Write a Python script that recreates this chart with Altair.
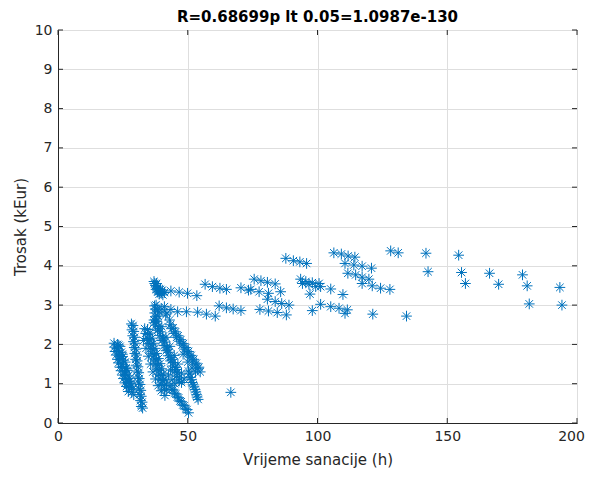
import altair as alt
import pandas as pd

TITLE = "R=0.68699p lt 0.05=1.0987e-130"
X_LABEL = "Vrijeme sanacije (h)"
Y_LABEL = "Trosak (kEur)"
X_TICKS = [0, 50, 100, 150, 200]
Y_TICKS = [0, 1, 2, 3, 4, 5, 6, 7, 8, 9, 10]

# dense cluster, stripe by stripe (x = hours, y = kEur)
stripe_a = [(21.6, 2.03), (22.9, 2.00), (21.8, 1.93), (22.8, 1.90), (23.9, 1.95),
            (22.0, 1.82), (23.3, 1.84), (24.4, 1.80), (22.5, 1.73), (23.7, 1.70),
            (24.8, 1.75), (22.9, 1.62), (24.2, 1.64), (25.3, 1.60), (23.3, 1.53),
            (24.6, 1.50), (25.9, 1.55), (23.9, 1.42), (25.0, 1.44), (26.2, 1.40),
            (24.3, 1.33), (25.6, 1.30), (26.7, 1.34), (24.8, 1.22), (26.0, 1.24),
            (27.1, 1.20), (25.3, 1.13), (26.5, 1.10), (27.6, 1.14), (25.8, 1.02),
            (26.9, 1.04), (28.0, 1.00), (26.4, 0.93), (27.3, 0.90), (28.3, 0.94),
            (27.1, 0.80), (28.4, 0.78), (23.4, 1.98), (24.9, 1.69), (26.4, 1.38),
            (27.6, 1.06), (28.8, 0.86), (29.2, 0.72)]
stripe_b = [(28.3, 2.52), (28.9, 2.48), (28.5, 2.37), (29.2, 2.33), (28.8, 2.22),
            (29.5, 2.18), (29.1, 2.07), (29.7, 2.03), (29.4, 1.92), (30.0, 1.88),
            (29.6, 1.77), (30.3, 1.73), (29.9, 1.62), (30.5, 1.58), (30.2, 1.47),
            (30.8, 1.43), (30.4, 1.32), (31.1, 1.28), (30.7, 1.17), (31.3, 1.13),
            (31.0, 1.02), (31.6, 0.98), (31.2, 0.87), (31.9, 0.83), (31.5, 0.72),
            (32.1, 0.68), (31.8, 0.57), (32.4, 0.53), (32.1, 0.42), (32.6, 0.38)]
stripe_c = [(33.4, 2.40), (34.5, 2.38), (33.8, 2.28), (34.7, 2.25), (35.5, 2.29),
            (34.4, 2.15), (35.3, 2.12), (36.2, 2.16), (35.0, 2.02), (35.9, 1.99),
            (36.8, 2.03), (35.6, 1.89), (36.5, 1.86), (37.4, 1.90), (36.2, 1.76),
            (37.1, 1.73), (38.0, 1.77), (36.9, 1.63), (37.8, 1.60), (38.7, 1.64),
            (37.5, 1.50), (38.4, 1.47), (39.3, 1.51), (38.1, 1.37), (39.0, 1.34),
            (39.9, 1.38), (38.8, 1.24), (39.7, 1.21), (40.6, 1.25), (39.4, 1.11),
            (40.3, 1.08), (41.2, 1.12), (40.0, 0.98), (40.9, 0.95), (41.8, 0.99),
            (41.0, 0.86), (41.9, 0.84), (33.0, 2.10), (33.9, 1.90), (34.8, 1.70),
            (35.7, 1.50), (36.6, 1.30), (37.6, 1.12), (38.6, 0.95), (39.8, 0.82),
            (41.2, 0.70)]
stripe_d = [(37.0, 2.62), (37.9, 2.58), (37.6, 2.49), (38.6, 2.45), (38.4, 2.36),
            (39.4, 2.32), (38.9, 2.40), (39.3, 2.23), (40.3, 2.19), (40.1, 2.10),
            (41.1, 2.06), (40.6, 2.14), (40.9, 1.97), (41.9, 1.93), (41.7, 1.84),
            (42.7, 1.80), (42.2, 1.88), (42.5, 1.71), (43.5, 1.67), (43.4, 1.58),
            (44.4, 1.54), (43.9, 1.62), (44.2, 1.45), (45.2, 1.41), (45.0, 1.32),
            (46.0, 1.28), (45.5, 1.36), (45.8, 1.19), (46.8, 1.15), (46.7, 1.07),
            (47.6, 1.03), (40.0, 2.45), (41.6, 2.18), (43.1, 1.95), (44.8, 1.72),
            (46.2, 1.50), (47.6, 1.27), (48.6, 1.12), (44.0, 1.10), (45.0, 1.00),
            (42.6, 1.22), (43.4, 1.35)]
stripe_e = [(43.3, 2.50), (43.8, 2.40), (44.4, 2.42), (44.7, 2.28), (45.3, 2.32),
            (45.7, 2.18), (46.3, 2.22), (46.8, 2.08), (47.3, 2.12), (47.8, 1.98),
            (48.3, 2.02), (48.8, 1.88), (49.3, 1.92), (49.8, 1.78), (50.3, 1.82),
            (50.8, 1.68), (51.3, 1.72), (51.8, 1.58), (52.3, 1.62), (52.8, 1.48),
            (53.3, 1.52), (53.8, 1.38), (54.3, 1.42), (54.8, 1.30), (48.2, 1.75),
            (50.0, 1.55), (51.6, 1.40), (53.0, 1.30)]
stripe_f = [(43.2, 0.95), (43.9, 0.86), (44.3, 0.84), (44.9, 0.76), (45.4, 0.74),
            (46.0, 0.66), (46.5, 0.64), (47.0, 0.56), (47.5, 0.54), (48.1, 0.46),
            (48.6, 0.44), (49.2, 0.36), (49.7, 0.34), (50.3, 0.26)]
stripe_g = [(50.3, 1.32), (50.8, 1.25), (51.0, 1.16), (51.5, 1.10), (51.7, 1.03),
            (52.1, 0.97), (52.4, 0.92), (52.8, 0.85), (53.1, 0.79), (53.4, 0.72),
            (53.6, 0.66), (54.0, 0.60)]
upper_a = [(37.0, 3.60), (37.3, 3.55), (37.6, 3.50), (37.9, 3.46), (38.3, 3.42),
           (38.7, 3.38), (39.2, 3.34), (39.8, 3.30), (40.4, 3.26), (37.8, 3.40),
           (38.4, 3.33), (39.0, 3.28), (38.0, 3.55), (39.5, 3.40), (41.0, 3.32),
           (40.2, 3.38), (43.5, 3.36), (46.7, 3.33), (49.9, 3.30), (53.5, 3.24)]
upper_b = [(37.2, 2.98), (37.5, 2.90), (37.3, 2.80), (37.6, 2.70), (38.0, 2.62),
           (38.4, 2.88), (39.0, 2.83), (37.0, 2.55), (38.6, 2.72), (37.8, 3.00),
           (41.0, 2.96), (43.5, 2.89), (46.1, 2.83), (49.5, 2.83), (53.8, 2.82),
           (57.2, 2.77), (60.6, 2.72), (40.0, 2.90), (42.0, 2.80), (43.0, 2.62),
           (41.5, 2.75)]
sparse = [(56.7, 3.53), (59.5, 3.47), (62.4, 3.43), (64.9, 3.40), (70.5, 3.44),
          (73.4, 3.38), (74.3, 3.40), (77.5, 3.34), (81.1, 3.30), (85.8, 3.34),
          (75.6, 3.66), (78.2, 3.62), (80.7, 3.58), (83.7, 3.54), (80.7, 3.15),
          (83.7, 3.09), (86.2, 3.04), (89.0, 3.00), (77.8, 2.89), (81.1, 2.85),
          (84.5, 2.81), (88.0, 2.75), (62.1, 2.98), (64.9, 2.93), (67.5, 2.90),
          (70.5, 2.86), (66.6, 0.78), (87.8, 4.19), (90.7, 4.13), (93.2, 4.10),
          (95.8, 4.06), (93.5, 3.66), (95.5, 3.60), (98.0, 3.57), (100.6, 3.55),
          (94.2, 3.55), (96.7, 3.53), (99.3, 3.47), (101.2, 3.47), (105.1, 3.41),
          (97.1, 3.28), (98.0, 2.86), (101.2, 3.02), (105.1, 2.96), (108.3, 2.92),
          (111.5, 2.88), (110.6, 2.79), (109.8, 3.27), (106.3, 4.33), (109.2, 4.30),
          (111.8, 4.25), (114.4, 4.22), (110.6, 4.06), (114.0, 4.02), (117.2, 3.99),
          (120.8, 3.94), (111.7, 3.81), (114.7, 3.77), (117.2, 3.71), (119.8, 3.66),
          (117.2, 3.55), (121.1, 3.49), (124.3, 3.43), (127.9, 3.40), (121.3, 2.77),
          (128.2, 4.38), (131.1, 4.33), (134.3, 2.72), (141.8, 4.32), (142.6, 3.85),
          (154.4, 4.27), (155.5, 3.83), (157.0, 3.55), (166.3, 3.81), (169.8, 3.53),
          (179.0, 3.77), (180.8, 3.49), (181.6, 3.03), (193.4, 3.45), (194.2, 3.00)]

points = (stripe_a + stripe_b + stripe_c + stripe_d + stripe_e + stripe_f
          + stripe_g + upper_a + upper_b + sparse)
df = pd.DataFrame(points, columns=["vrijeme", "trosak"])
x_ticks_df = pd.DataFrame({"vrijeme": X_TICKS})
y_ticks_df = pd.DataFrame({"trosak": Y_TICKS})

ASTERISK = "M-1,0L1,0M0,-1L0,1M-0.7,-0.7L0.7,0.7M-0.7,0.7L0.7,-0.7"
FONT = "DejaVu Sans"
AX = "#262626"
W, H = 519, 393
TICK = 5

x_scale = alt.Scale(domain=[0, 200], nice=False, zero=False)
y_scale = alt.Scale(domain=[0, 10], nice=False, zero=False)
x_axis = alt.Axis(values=X_TICKS, format="d", labelFlush=False, labelOverlap=False,
                  labelOffset={"condition": {"test": "datum.value == 200", "value": -6},
                               "value": 0})
y_axis = alt.Axis(values=Y_TICKS, format="d", labelFlush=False, labelOverlap=False)
x_enc = alt.X("vrijeme:Q", title=X_LABEL, scale=x_scale, axis=x_axis)
y_enc = alt.Y("trosak:Q", title=Y_LABEL, scale=y_scale, axis=y_axis)

scatter = alt.Chart(df).mark_point(
    shape=ASTERISK, filled=False, size=115, strokeWidth=1,
    color="#0072BD", opacity=1,
).encode(x=x_enc, y=y_enc)

# MATLAB-style inward ticks on all four sides
tick_style = dict(color=AX, strokeWidth=1)
xt_bottom = alt.Chart(x_ticks_df).mark_rule(**tick_style).encode(
    x=x_enc, y=alt.value(H), y2=alt.value(H - TICK))
xt_top = alt.Chart(x_ticks_df).mark_rule(**tick_style).encode(
    x=x_enc, y=alt.value(0), y2=alt.value(TICK))
yt_left = alt.Chart(y_ticks_df).mark_rule(**tick_style).encode(
    y=y_enc, x=alt.value(0), x2=alt.value(TICK))
yt_right = alt.Chart(y_ticks_df).mark_rule(**tick_style).encode(
    y=y_enc, x=alt.value(W), x2=alt.value(W - TICK))

chart = (
    alt.layer(scatter, xt_bottom, xt_top, yt_left, yt_right)
    .properties(
        width=W, height=H,
        title=alt.TitleParams(TITLE, font=FONT, fontSize=15, fontWeight="bold",
                              color="#000000", offset=-2, frame="group"),
        autosize=alt.AutoSizeParams(type="none"),
        padding={"left": 50, "top": 22, "right": 8, "bottom": 46},
    )
    .configure_view(stroke=AX, strokeWidth=1)
    .configure_axis(
        domainColor=AX, domainWidth=1, ticks=False,
        grid=True, gridColor="#dedede", gridWidth=1,
        labelFont=FONT, labelFontSize=14, labelColor=AX, labelPadding=6,
        titleFont=FONT, titleFontSize=15, titleColor=AX, titleFontWeight="normal",
    )
    .configure_axisX(titlePadding=9)
    .configure_axisY(titlePadding=6)
)

chart.save("out.html", embed_options={"renderer": "svg", "actions": False})
